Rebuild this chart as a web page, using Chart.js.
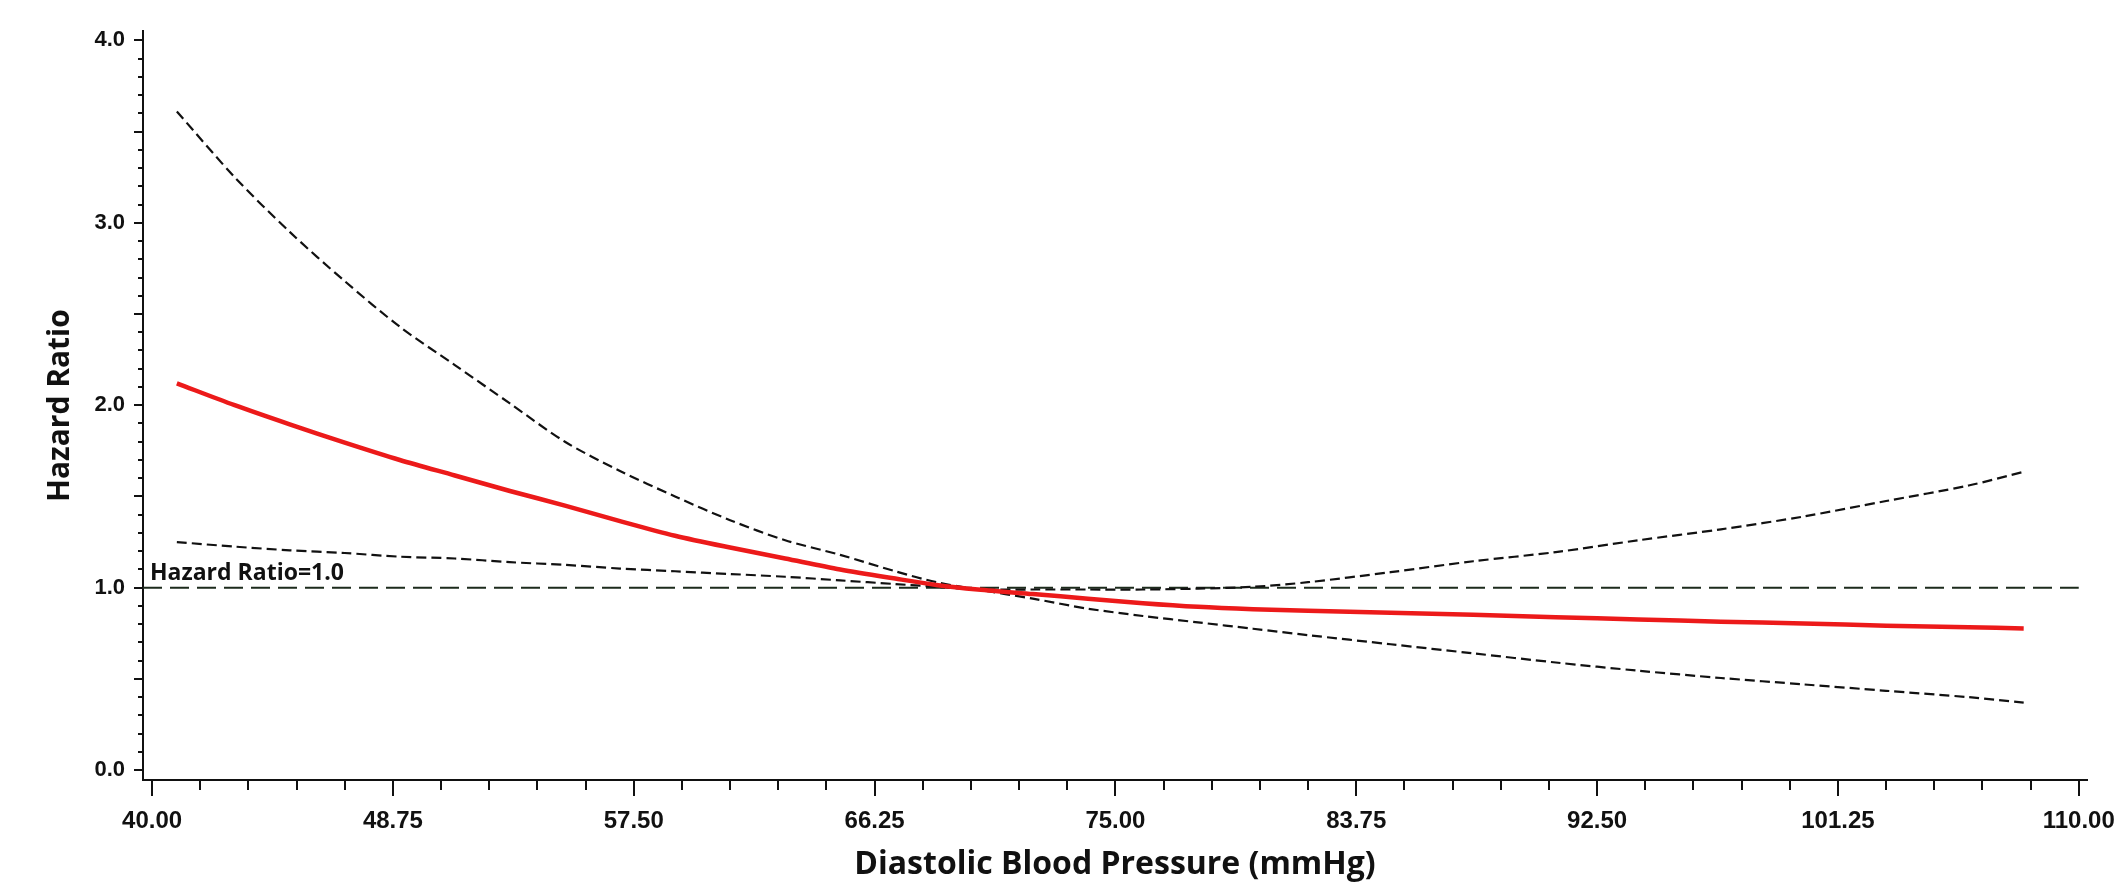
<!DOCTYPE html>
<html>
<head>
<meta charset="utf-8">
<script src="https://cdn.jsdelivr.net/npm/chart.js@4.4.1/dist/chart.umd.min.js"></script>
<style>
  html, body { margin: 0; padding: 0; background: #fff; }
  canvas { display: block; }
</style>
</head>
<body>
<canvas id="hrChart" width="2124" height="895"></canvas>
<script>
// diastolic blood pressure (mmHg) sample points
const dbp = [40.9, 43, 45, 47, 49, 51, 53, 55, 57, 59, 61, 63, 65, 67, 68.5, 70,
             72, 74, 76, 78, 80, 82, 85, 88, 91, 94, 97, 100, 103, 106, 108];

// hazard ratio estimate (red line)
const hazardRatio = [2.12, 2.00, 1.895, 1.795, 1.70, 1.615, 1.53, 1.45, 1.365, 1.285, 1.22, 1.16, 1.10, 1.05, 1.015, 0.99,
                     0.965, 0.94, 0.915, 0.895, 0.882, 0.873, 0.863, 0.852, 0.838, 0.826, 0.814, 0.804, 0.792, 0.783, 0.777];

// confidence band, steep one (high at left, low at right)
const ciSteep = [3.61, 3.25, 2.95, 2.68, 2.43, 2.22, 2.01, 1.80, 1.64, 1.50, 1.37, 1.26, 1.18, 1.09, 1.03, 0.99,
                 0.94, 0.885, 0.845, 0.81, 0.775, 0.74, 0.69, 0.64, 0.59, 0.545, 0.505, 0.47, 0.435, 0.40, 0.37];

// confidence band, flat one (low at left, high at right)
const ciFlat = [1.25, 1.225, 1.205, 1.19, 1.17, 1.16, 1.14, 1.125, 1.105, 1.09, 1.075, 1.06, 1.04, 1.02, 1.005, 0.99,
                0.99, 0.99, 0.99, 0.995, 1.005, 1.03, 1.085, 1.145, 1.195, 1.26, 1.32, 1.39, 1.475, 1.56, 1.635];

// reference line HR = 1.0
const refX = [39.67, 110];
const refY = [1, 1];

// tick labels
const xTicks = [40, 48.75, 57.5, 66.25, 75, 83.75, 92.5, 101.25, 110];
const yTicks = [0, 1, 2, 3, 4];

const X_MIN = 39.67, X_MAX = 110.3;
const Y_MIN = -0.054, Y_MAX = 4.05;

const toPoints = (xs, ys) => xs.map((x, i) => ({ x: x, y: ys[i] }));

// minor / major tick marks on both axes
const tickMarks = {
    id: 'tickMarks',
    afterDraw(chart) {
        const ctx = chart.ctx;
        const xs = chart.scales.x, ys = chart.scales.y;
        const area = chart.chartArea;
        ctx.save();
        ctx.strokeStyle = '#111';
        ctx.lineWidth = 2;
        ctx.beginPath();
        for (let i = 0; i <= 40; i++) {
            const px = Math.round(xs.getPixelForValue(40 + 1.75 * i));
            const len = i % 5 === 0 ? 16 : 10;
            ctx.moveTo(px, area.bottom);
            ctx.lineTo(px, area.bottom + len);
        }
        for (let i = 0; i <= 40; i++) {
            const py = Math.round(ys.getPixelForValue(i / 10));
            const len = i % 5 === 0 ? 9 : 5;
            ctx.moveTo(area.left, py);
            ctx.lineTo(area.left - len, py);
        }
        ctx.stroke();

        // reference label
        ctx.fillStyle = '#111';
        ctx.font = 'bold 23px "Open Sans"';
        ctx.textAlign = 'left';
        ctx.textBaseline = 'alphabetic';
        ctx.fillText('Hazard Ratio=1.0', area.left + 7, ys.getPixelForValue(1) - 8);
        ctx.restore();
    }
};

new Chart(document.getElementById('hrChart').getContext('2d'), {
    type: 'line',
    data: {
        datasets: [
            {
                data: toPoints(dbp, hazardRatio),
                borderColor: '#ec1a1a',
                borderWidth: 4.5,
                pointRadius: 0,
                tension: 0.3
            },
            {
                data: toPoints(dbp, ciSteep),
                borderColor: '#111',
                borderWidth: 2.2,
                borderDash: [10, 5],
                pointRadius: 0,
                tension: 0.3
            },
            {
                data: toPoints(dbp, ciFlat),
                borderColor: '#111',
                borderWidth: 2.2,
                borderDash: [10, 5],
                pointRadius: 0,
                tension: 0.3
            },
            {
                data: toPoints(refX, refY),
                borderColor: '#1c2b1c',
                borderWidth: 2,
                borderDash: [19, 8],
                pointRadius: 0
            }
        ]
    },
    options: {
        responsive: false,
        animation: false,
        devicePixelRatio: 1,
        layout: { padding: { top: 22, right: 37, left: 0, bottom: 0 } },
        plugins: {
            legend: { display: false },
            tooltip: { enabled: false }
        },
        scales: {
            x: {
                type: 'linear',
                min: X_MIN,
                max: X_MAX,
                afterBuildTicks: (scale) => { scale.ticks = xTicks.map(v => ({ value: v })); },
                afterFit: (scale) => {
                    scale.height = 115;
                    // labels fit inside the fixed margins, no extra side padding
                    scale.paddingLeft = 0;
                    scale.paddingRight = 0;
                },
                grid: { display: false, drawTicks: false },
                border: { display: true, color: '#111', width: 2 },
                ticks: {
                    color: '#111',
                    padding: 27,
                    maxRotation: 0,
                    autoSkip: false,
                    font: { family: 'Liberation Sans', size: 24, weight: 'bold' },
                    callback: (v) => Number(v).toFixed(2)
                },
                title: {
                    display: true,
                    text: 'Diastolic Blood Pressure (mmHg)',
                    color: '#111',
                    font: { family: 'Open Sans', size: 32, weight: 'bold' },
                    padding: { top: 0, bottom: 11 }
                }
            },
            y: {
                type: 'linear',
                min: Y_MIN,
                max: Y_MAX,
                afterBuildTicks: (scale) => { scale.ticks = yTicks.map(v => ({ value: v })); },
                afterFit: (scale) => { scale.width = 143; },
                grid: { display: false, drawTicks: false },
                border: { display: true, color: '#111', width: 2 },
                ticks: {
                    color: '#111',
                    padding: 18,
                    font: { family: 'Liberation Sans', size: 22, weight: 'bold' },
                    callback: (v) => Number(v).toFixed(1)
                },
                title: {
                    display: true,
                    text: 'Hazard Ratio',
                    color: '#111',
                    font: { family: 'Open Sans', size: 30, weight: 'bold' },
                    padding: { top: 42, bottom: 0 }
                }
            }
        }
    },
    plugins: [tickMarks]
});
</script>
</body>
</html>
